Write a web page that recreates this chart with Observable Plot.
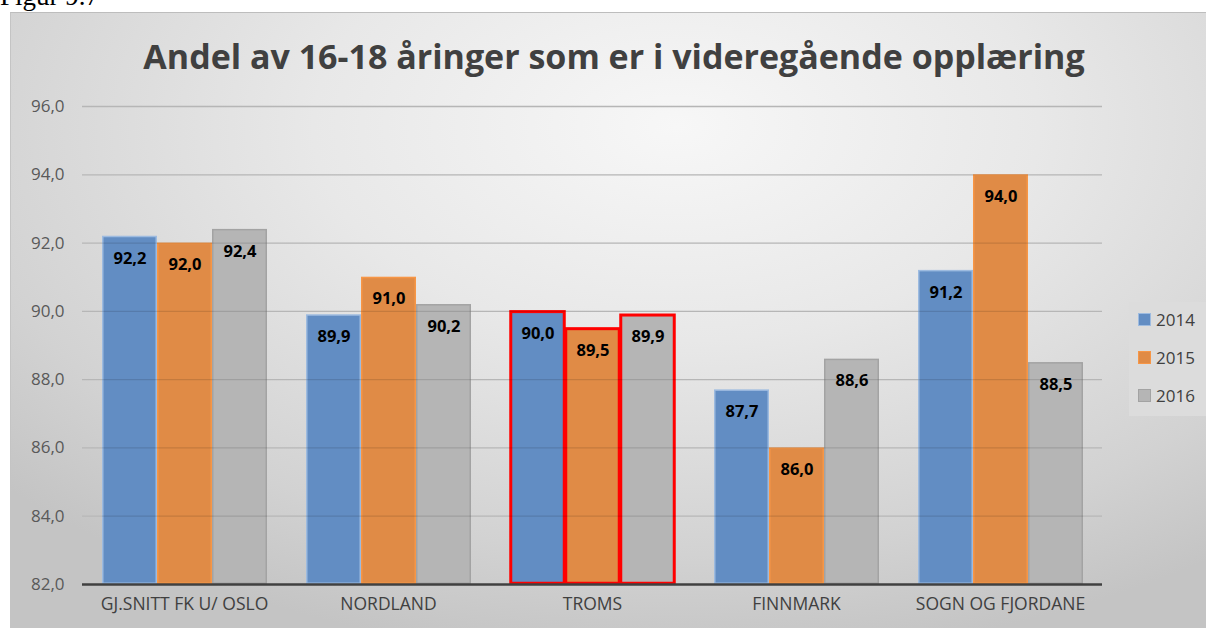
<!DOCTYPE html>
<html>
<head>
<meta charset="utf-8">
<script src="https://cdn.jsdelivr.net/npm/d3@7"></script>
<script src="https://cdn.jsdelivr.net/npm/@observablehq/plot@0.6"></script>
<style>
  html, body { margin: 0; padding: 0; background: #fff; }
  body { width: 1206px; height: 628px; position: relative; overflow: hidden; font-family: "Open Sans", Lato, sans-serif; }
  #fig { position: absolute; left: 0px; top: -19px; font-family: "Liberation Serif", serif; font-size: 27px; color: #000; }
  #frame { position: absolute; left: 10px; top: 12px; width: 1210px; height: 630px;
    border-top: 1px solid #bdbdbd; border-left: 1px solid #c4c4c4;
    background: radial-gradient(ellipse 75% 85% at 55% 18%, #f7f7f7 0%, #e8e8e8 40%, #d2d2d2 80%, #c4c4c4 100%); }
  #title { position: absolute; left: 0; top: 33px; width: 1228px; text-align: center; font-weight: 700; font-size: 34px; color: #404040; }
  #chart { position: absolute; left: 0; top: 0; }
  #legend { position: absolute; left: 1129px; top: 302px; width: 80px; height: 114px; background: #dcdcdc; }
  .li { position: absolute; left: 9px; font-size: 17px; color: #404040; display: flex; align-items: center; }
  .sw { width: 11px; height: 11px; margin-right: 5px; border: 1px solid; }
</style>
</head>
<body>
<div id="fig">Figur 9.7</div>
<div id="frame"></div>
<div id="chart"></div>
<div id="title">Andel av 16-18 åringer som er i videregående opplæring</div>
<div id="legend"></div>
<script>
const categories = ["GJ.SNITT FK U/ OSLO", "NORDLAND", "TROMS", "FINNMARK", "SOGN OG FJORDANE"];
const years = ["2014", "2015", "2016"];
const values2014 = [92.2, 89.9, 90.0, 87.7, 91.2];
const values2015 = [92.0, 91.0, 89.5, 86.0, 94.0];
const values2016 = [92.4, 90.2, 89.9, 88.6, 88.5];
const yTicks = [82, 84, 86, 88, 90, 92, 94, 96];
const highlighted = "TROMS";
const colors = ["#628dc3", "#e08b46", "#b5b5b5"];
const edges = ["#9dbbe0", "#f79646", "#a3a3a3"];

const series = [values2014, values2015, values2016];
const data = [];
categories.forEach((c, i) => years.forEach((y, j) => data.push({cat: c, year: y, value: series[j][i]})));
const yMin = yTicks[0];
const fmt = d => d.toFixed(1).replace(".", ",");

const chart = Plot.plot({
  width: 1206,
  height: 628,
  marginLeft: 80,
  marginRight: 103,
  marginTop: 106,
  marginBottom: 44,
  style: {background: "transparent", fontFamily: "'Open Sans', Lato, sans-serif"},
  fx: {domain: categories, padding: 0, label: null},
  x: {domain: years, paddingInner: 0, paddingOuter: 0.35, axis: null},
  y: {domain: [yMin, yTicks[yTicks.length - 1]], axis: null},
  color: {domain: years, range: colors},
  marks: [
    Plot.ruleY(yTicks.slice(1), {stroke: "#d0d0d0", strokeWidth: 1.3}),
    Plot.barY(data, {fx: "cat", x: "year", y1: () => yMin, y2: "value", fill: "year",
      stroke: d => edges[years.indexOf(d.year)], strokeWidth: 1.5, inset: 0.75}),
    Plot.barY(data.filter(d => d.cat === highlighted), {fx: "cat", x: "year", y1: () => yMin, y2: "value",
      fill: "none", stroke: "#ff0000", strokeWidth: 3, inset: 0.75}),
    Plot.ruleY(yTicks.slice(1), {stroke: "#000", strokeOpacity: 0.12, strokeWidth: 1.3}),
    Plot.text(data, {fx: "cat", x: "year", y: "value", text: d => fmt(d.value), dy: 22,
      fontSize: 16.5, fontWeight: 700, fill: "#000"}),
    Plot.ruleY([yMin], {stroke: "#404040", strokeWidth: 2.5}),
    Plot.axisY({ticks: yTicks, tickFormat: fmt, tickSize: 0, tickPadding: 18, fontSize: 17, color: "#595959", label: null}),
    Plot.axisFx({tickSize: 0, tickPadding: 13, fontSize: 17.5, color: "#404040", label: null, anchor: "bottom"})
  ]
});
document.getElementById("chart").appendChild(chart);

const lg = document.getElementById("legend");
years.forEach((y, j) => {
  const d = document.createElement("div");
  d.className = "li";
  d.style.top = (6 + j * 38) + "px";
  d.innerHTML = `<span class="sw" style="background:${colors[j]};border-color:${edges[j]}"></span>${y}`;
  lg.appendChild(d);
});
</script>
</body>
</html>
